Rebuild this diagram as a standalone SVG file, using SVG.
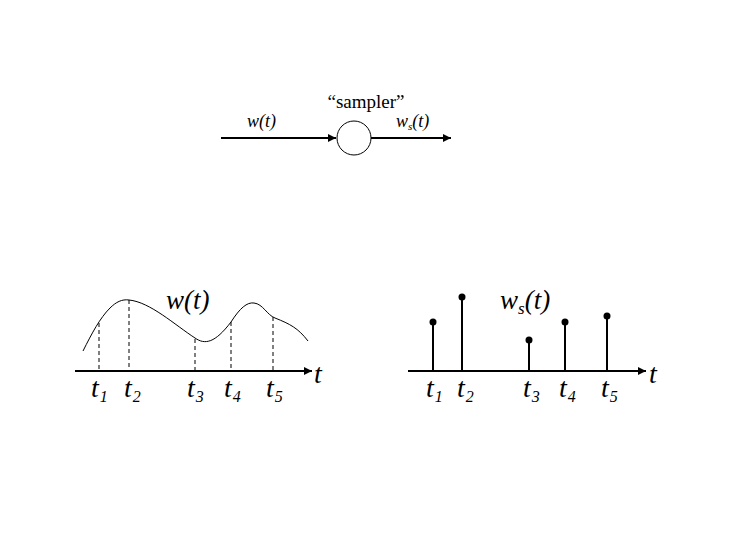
<svg xmlns="http://www.w3.org/2000/svg" width="732" height="540" viewBox="0 0 732 540">
<defs>
<marker id="ah" viewBox="0 0 10 10" refX="10" refY="5" markerWidth="10" markerHeight="8" markerUnits="userSpaceOnUse" orient="auto">
<path d="M0,0 L10,5 L0,10 Z" fill="#000"/>
</marker>
<style>
.ln{stroke:#000;stroke-width:2;fill:none}
.th{stroke:#000;stroke-width:1;fill:none}
.dash{stroke:#000;stroke-width:1;stroke-dasharray:4,3;fill:none}
.stem{stroke:#000;stroke-width:2}
.it{font-family:"Liberation Serif",serif;font-style:italic;fill:#000}
.rm{font-family:"Liberation Serif",serif;fill:#000}
.s{font-size:28px}
.sub{font-size:16px}
</style>
</defs>
<rect width="732" height="540" fill="#fff"/>

<g id="connectors">
<line class="ln" x1="221" y1="138" x2="336" y2="138" marker-end="url(#ah)"/>
<line class="ln" x1="371" y1="138" x2="451" y2="138" marker-end="url(#ah)"/>
<line class="ln" x1="75" y1="371" x2="312" y2="371" marker-end="url(#ah)"/>
<line class="ln" x1="408" y1="371" x2="646" y2="371" marker-end="url(#ah)"/>
</g>

<g id="sampler">
<circle cx="354" cy="138" r="17" fill="#fff" stroke="#000" stroke-width="1"/>
<text class="rm" x="366" y="108" font-size="19" text-anchor="middle">“sampler”</text>
</g>
<g id="input-label">
<text class="it" x="247" y="127" font-size="18">w(t)</text>
</g>
<g id="output-label">
<text class="it" x="396" y="127" font-size="18">w<tspan font-size="11" dy="3">s</tspan><tspan dy="-3">(t)</tspan></text>
</g>

<g id="continuous-signal">
<path class="th" d="M83,351 C92,333 100,318 110,308 C116,302 122,299 129,300 C150,302 175,325 195,338 C205,345 215,343 231,322 C240,308 247,302 254,303 C263,304 267,315 275,318 C290,324 298,328 308,341"/>
<line class="dash" x1="99" y1="323" x2="99" y2="371"/>
<line class="dash" x1="129" y1="300" x2="129" y2="371"/>
<line class="dash" x1="195" y1="339" x2="195" y2="371"/>
<line class="dash" x1="231" y1="322" x2="231" y2="371"/>
<line class="dash" x1="273" y1="317" x2="273" y2="371"/>
<text class="it" x="166" y="309" font-size="27">w(t)</text>
<text class="it" x="314" y="383" font-size="28">t</text>
<text class="it s" x="91" y="397">t<tspan class="sub" dx="1" dy="5">1</tspan></text>
<text class="it s" x="124" y="397">t<tspan class="sub" dx="1" dy="5">2</tspan></text>
<text class="it s" x="187" y="397">t<tspan class="sub" dx="1" dy="5">3</tspan></text>
<text class="it s" x="224" y="397">t<tspan class="sub" dx="1" dy="5">4</tspan></text>
<text class="it s" x="266" y="397">t<tspan class="sub" dx="1" dy="5">5</tspan></text>
</g>

<g id="sampled-signal">
<line class="stem" x1="433" y1="322" x2="433" y2="371"/>
<line class="stem" x1="462" y1="297" x2="462" y2="371"/>
<line class="stem" x1="529" y1="340" x2="529" y2="371"/>
<line class="stem" x1="565" y1="322" x2="565" y2="371"/>
<line class="stem" x1="607" y1="316" x2="607" y2="371"/>
<circle cx="433" cy="322" r="3.5"/>
<circle cx="462" cy="297" r="3.5"/>
<circle cx="529" cy="340" r="3.5"/>
<circle cx="565" cy="322" r="3.5"/>
<circle cx="607" cy="316" r="3.5"/>
<text class="it" x="500" y="309" font-size="27">w<tspan font-size="17" dy="5">s</tspan><tspan dy="-5">(t)</tspan></text>
<text class="it" x="649" y="383" font-size="28">t</text>
<text class="it s" x="426" y="397">t<tspan class="sub" dx="1" dy="5">1</tspan></text>
<text class="it s" x="457" y="397">t<tspan class="sub" dx="1" dy="5">2</tspan></text>
<text class="it s" x="523" y="397">t<tspan class="sub" dx="1" dy="5">3</tspan></text>
<text class="it s" x="559" y="397">t<tspan class="sub" dx="1" dy="5">4</tspan></text>
<text class="it s" x="601" y="397">t<tspan class="sub" dx="1" dy="5">5</tspan></text>
</g>
</svg>
